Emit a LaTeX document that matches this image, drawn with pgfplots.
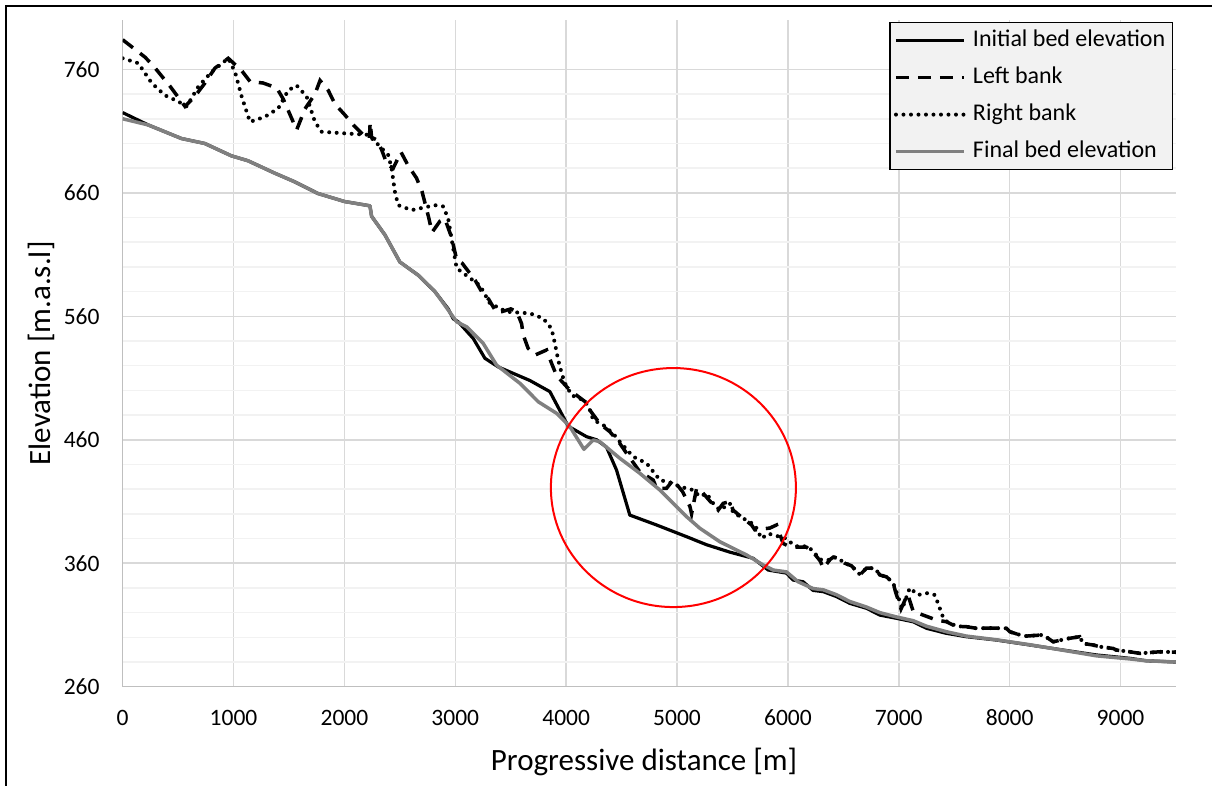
\documentclass[border=0pt]{standalone}
\usepackage{pgfplots}
\pgfplotsset{compat=1.18}
\usepackage{fontspec}
\setmainfont{Carlito}
\definecolor{gridmaj}{HTML}{D9D9D9}
\definecolor{gridmin}{HTML}{F2F2F2}
\definecolor{axisgray}{HTML}{BFBFBF}
\definecolor{finalgray}{HTML}{808080}
\definecolor{legfill}{HTML}{F2F2F2}
\begin{document}
\begin{tikzpicture}
\useasboundingbox (-122.7pt,-98.3pt) rectangle (1089.3pt,686.7pt);
\begin{axis}[
  scale only axis,
  width=1053.3pt, height=666.7pt,
  xmin=0, xmax=9500, ymin=260, ymax=800,
  xtick={0,1000,...,9000}, ytick={260,360,...,760},
  minor y tick num=4,
  xmajorgrids, ymajorgrids, yminorgrids,
  major grid style={draw=gridmaj, line width=1.5pt},
  minor grid style={draw=gridmin, line width=1.5pt},
  axis x line*=bottom, axis y line*=left,
  axis line style={-, draw=axisgray, line width=1.5pt},
  major tick length=0pt, minor tick length=0pt,
  scaled x ticks=false, scaled y ticks=false,
  /pgf/number format/1000 sep={},
  /pgf/number format/assume math mode=true,
  tick label style={font=\fontsize{23.5}{28}\selectfont},
  yticklabel style={anchor=east, inner sep=0pt, xshift=-23pt},
  xticklabel style={anchor=north, inner sep=0pt, yshift=-23pt},
  xlabel={Progressive distance [m]},
  ylabel={Elevation [m.a.s.l]},
  label style={font=\fontsize{31}{36}\selectfont},
  xlabel style={at={(axis description cs:0.495,-0.125)}, anchor=base, inner sep=0pt},
  ylabel style={at={(axis description cs:-0.069,0.5)}, anchor=base, inner sep=0pt},
  legend image code/.code={\draw[#1] (0pt,0pt) -- (68pt,0pt);},
  legend cell align=left,
  legend style={at={(axis description cs:0.997,0.997)}, anchor=north east,
    fill=legfill, draw=black, line width=1.2pt,
    font=\fontsize{24}{28}\selectfont,
    inner xsep=4pt, inner ysep=6pt, row sep=13pt, column sep=4pt,
    nodes={inner xsep=3pt, inner ysep=1pt, text height=17pt, text depth=5pt}},
]
\addplot[black, line width=3.2pt, line join=round] coordinates {
(0,725) (230,715) (530,704) (740,700) (980,690) (1130,686) (1370,676) (1550,669)
(1760,659.5) (2000,653) (2230,649.5) (2245,641) (2365,626) (2500,604) (2670,593)
(2816,580) (2936,566) (2981,558) (3026,555.6) (3162,542) (3267,526) (3387,519)
(3673,508) (3853,499) (4018,471) (4184,462.5) (4274,460) (4364,454) (4454,435.5)
(4574,399) (4815,391) (5086,381.5) (5266,375) (5476,369) (5686,364) (5822,354.5)
(5987,352) (6047,346.4) (6137,345) (6227,338) (6318,337) (6438,333) (6558,327.5)
(6709,323.5) (6829,318) (6979,315.4) (7129,312.6) (7250,307.3) (7430,303.2)
(7610,300.5) (7881,297.8) (8181,293.8) (8482,289.7) (8783,285.7) (9083,283)
(9233,281) (9500,280)
};
\addlegendentry{Initial bed elevation}
\addplot[black, line width=3.5pt, line cap=butt, dash pattern=on 13pt off 9pt] coordinates {
(0,784) (200,770) (275,763) (430,746) (562,730) (650,738) (742,749) (832,761)
(952,769) (1073,759) (1150,750) (1265,749) (1389,745) (1448,736) (1569,711)
(1644,728) (1734,740) (1780,751) (1854,743) (1914,732) (2005,723) (2080,715)
(2170,707) (2225,704) (2232,717) (2245,705) (2290,703) (2335,695) (2385,683)
(2440,680) (2510,693) (2575,682) (2650,672) (2700,661) (2760,640) (2790,628)
(2861,637) (2906,639) (2966,624) (3012,606) (3062,603) (3180,589) (3250,578)
(3300,574) (3372,563) (3417,563.7) (3500,566) (3553,564) (3598,554) (3612,545)
(3657,534) (3718,528.6) (3823,532.7) (3868,522) (3913,512) (4004,503) (4049,499)
(4184,490) (4214,484) (4304,473) (4394,466.5) (4484,457) (4545,449) (4665,434)
(4785,427.4) (4815,420.7) (4905,420.7) (4965,427.4) (5050,418) (5116,406)
(5131,400) (5176,420.7) (5236,416.6) (5300,410) (5371,403) (5416,408.5)
(5476,410) (5506,403) (5600,396) (5672,391) (5702,387) (5837,388.5) (5897,391)
(5957,376) (6017,373.4) (6107,373) (6167,373) (6227,369) (6290,362) (6320,356)
(6380,363) (6410,365) (6453,364) (6513,360) (6573,358) (6648,350.5) (6709,356)
(6784,356) (6829,350.5) (6889,349) (6949,344) (6970,337) (7020,323) (7080,335)
(7130,321) (7220,318) (7339,314) (7430,312.6) (7520,308.6) (7610,308.6)
(7700,307.3) (7820,307.5) (7971,307.3) (8001,304.5) (8091,302) (8151,301)
(8301,302) (8392,296.4) (8527,299) (8632,300.5) (8662,295) (8752,293.8)
(8812,292.4) (8932,291) (8963,289.7) (9083,288.3) (9173,287) (9354,288.3) (9500,288)
};
\addlegendentry{Left bank}
\addplot[black, line width=4pt, line cap=round, dash pattern=on 0pt off 7.5pt] coordinates {
(0,769) (141,765) (261,749) (381,739) (501,734) (577,730) (682,746) (802,758)
(952,769) (1013,758) (1073,738) (1148,717.5) (1283,721.6) (1403,728.4) (1493,743)
(1569,747) (1659,738) (1734,717.5) (1794,709.5) (2034,708) (2215,707) (2305,699)
(2395,690.6) (2425,680) (2455,661) (2485,650) (2606,646) (2816,650) (2891,649)
(2936,639) (2966,623) (3012,599) (3162,589) (3222,585) (3312,570.5) (3463,563.7)
(3673,562.4) (3793,558.3) (3868,550) (3898,538) (3928,524.6) (3959,514) (3988,506)
(4049,496) (4124,493.5) (4199,488) (4244,476) (4334,472) (4424,465) (4484,458.4)
(4604,446.3) (4725,441) (4845,427.4) (4965,424.7) (5025,422) (5145,419.3)
(5206,414) (5266,416.6) (5326,408.5) (5386,403) (5476,408.5) (5506,401)
(5596,396.4) (5702,391) (5762,380) (5822,384) (5987,380) (6047,375) (6107,373)
(6167,374) (6227,370) (6287,363) (6377,362.6) (6407,365) (6453,364) (6513,360)
(6573,358) (6648,351) (6709,356) (6784,356) (6829,350.5) (6889,349) (6949,344)
(6990,334) (7030,323) (7099,340) (7174,334.3) (7250,335.8) (7325,334.3)
(7370,323.5) (7400,316) (7430,313) (7520,309) (7610,308.6) (7700,307.3)
(7820,307.5) (7971,307.3) (8001,304.5) (8091,302) (8151,301) (8301,302)
(8392,296.4) (8527,299) (8632,300.5) (8662,295) (8752,293.8) (8812,292.4)
(8932,291) (8963,289.7) (9083,288.3) (9173,287) (9354,288.3) (9500,288)
};
\addlegendentry{Right bank}
\addplot[finalgray, line width=3.5pt, line join=round] coordinates {
(0,720) (230,715) (530,704) (740,700) (980,690) (1130,686) (1370,676) (1550,669)
(1760,659.5) (2000,653) (2230,649.5) (2245,641) (2365,626) (2500,604) (2670,593)
(2816,580) (2861,574.5) (3012,555.6) (3102,551.5) (3252,538) (3372,520.5)
(3583,505.7) (3748,490.8) (3914,481.4) (4034,470.6) (4160,452.3) (4244,459.8)
(4304,458.4) (4484,445) (4665,432.8) (4845,419.3) (4965,408.5) (5086,397.7)
(5206,388.3) (5386,377.4) (5627,366.7) (5777,358.6) (5867,354.5) (5987,353)
(6092,345) (6227,339.5) (6318,338.5) (6438,334.5) (6558,329) (6709,324.5)
(6829,320) (6979,316.5) (7129,313.5) (7250,309) (7430,304.5) (7610,301)
(7881,298) (8181,294) (8482,289.5) (8783,285) (9083,282.5) (9233,281) (9500,280)
};
\addlegendentry{Final bed elevation}
\draw[red, line width=2pt] (axis cs:4967,421.3) ellipse [x radius=122.5pt, y radius=119.5pt];
\end{axis}
\draw[black, line width=1.5pt] (-116.7pt,-110pt) -- (-116.7pt,680.7pt) -- (1100pt,680.7pt);
\end{tikzpicture}
\end{document}
